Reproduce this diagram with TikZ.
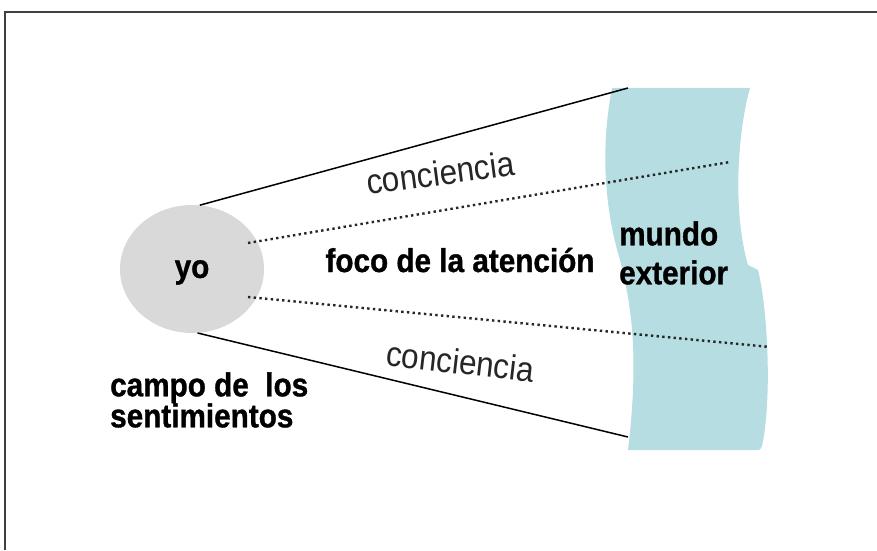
\documentclass[tikz,border=0pt]{standalone}
\usepackage{fontspec}
\setmainfont{Liberation Sans}[FakeStretch=0.9, BoldFeatures={FakeBold=1}]
\usetikzlibrary{shapes.geometric}
\definecolor{mundocolor}{RGB}{182,221,225}
\definecolor{yocolor}{RGB}{217,217,217}
\definecolor{marco}{RGB}{64,64,64}

\begin{document}
\begin{tikzpicture}[x=1pt, y=1pt,
   rayo/.style={line width=1.5pt},
   foco/.style={line width=2.4pt, dash pattern=on 2.4pt off 3.3pt, black!85},
   titulo/.style={font=\bfseries\fontsize{33}{39}\selectfont, inner sep=0pt},
   rotulo/.style={font=\fontsize{35}{40}\selectfont, inner sep=0pt, text=black!85}]

\useasboundingbox (0,0) rectangle (877,550);
\draw[marco, line width=1.5pt] (5,0) -- (5,538) -- (877,538);

\fill[mundocolor] (612,462) -- (750,462)
   .. controls (738,420) and (732,340) .. (748,285) -- (758,280)
   .. controls (768,240) and (772,150) .. (762,104)
   .. controls (760,100) .. (756,100) -- (628,100)
   .. controls (640,200) and (630,250) .. (620,290)
   .. controls (605,340) and (600,400) .. (612,462) -- cycle;

\node[ellipse, fill=yocolor, minimum width=144pt, minimum height=128pt,
      titulo, text depth=0pt] (yo) at (192,281) {yo};

\coordinate (w1) at (628,462);
\coordinate (w2) at (628,113);
\coordinate (d1) at (248,307);
\coordinate (d2) at (248,253);
\coordinate (w3) at (730,388);
\coordinate (w4) at (770,203);

\draw[rayo] (yo.83) -- (w1);
\draw[rayo] (yo.-85) -- (w2);
\draw[foco] (d1) -- (w3);
\draw[foco] (d2) -- (w4);

\node[titulo, anchor=base] (atencion) at (460,278) {foco de la atención};
\node[titulo, align=left, anchor=west] (mundo) at (619,297) {mundo\\exterior};
\node[titulo, align=left, anchor=west, font=\bfseries\fontsize{33}{31}\selectfont]
   (campo) at (110,150) {campo de\ \ los\\sentimientos};

\node[rotulo, anchor=base, rotate=7.5] (conc1) at (442,365) {conciencia};
\node[rotulo, anchor=base, rotate=-6.5] (conc2) at (459,176) {conciencia};

\end{tikzpicture}
\end{document}
